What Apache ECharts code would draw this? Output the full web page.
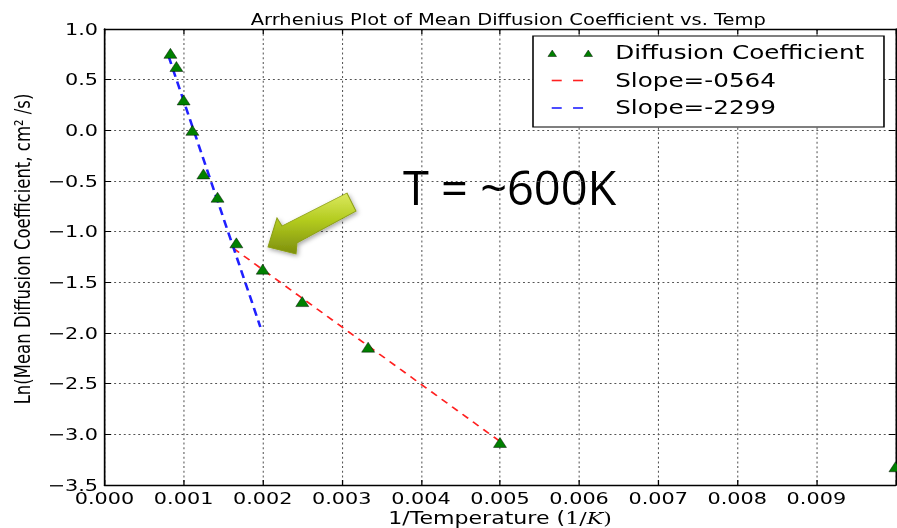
<!DOCTYPE html>
<html>
<head>
<meta charset="utf-8">
<script src="https://cdn.jsdelivr.net/npm/echarts@6/dist/echarts.min.js"></script>
<style>
html,body{margin:0;padding:0;background:#fff;overflow:hidden;}
#c{width:690px;height:528px;transform:scaleX(1.3);transform-origin:0 0;}
</style>
</head>
<body>
<div id="c"></div>
<script>
// ---- data ----
const invT = [0.000833, 0.000909, 0.001, 0.001111, 0.00125, 0.001429, 0.001667, 0.002, 0.0025, 0.003333, 0.005, 0.01];
const lnD = [0.76, 0.63, 0.30, 0.0, -0.43, -0.66, -1.11, -1.37, -1.69, -2.14, -3.08, -3.32];
const redFitX = [0.00163, 0.005];
const redFitY = [-1.165, -3.07];
const blueFitX = [0.00081, 0.00197];
const blueFitY = [0.73, -1.94];
const xTickLabels = ['0.000','0.001','0.002','0.003','0.004','0.005','0.006','0.007','0.008','0.009',''];
const yTickLabels = ['\u22123.5','\u22123.0','\u22122.5','\u22122.0','\u22121.5','\u22121.0','\u22120.5','0.0','0.5','1.0'];
const seriesNames = ['Diffusion Coefficient', 'Slope=-0564', 'Slope=-2299'];
const titleText = 'Arrhenius Plot of Mean Diffusion Coefficient vs. Temp';
const yLabelText = 'Ln(Mean Diffusion Coefficient, cm\u00b2 /s)';
const annotationText = 'T = ~600K';

const X_MIN = 0, X_MAX = 0.01, X_INT = 0.001;
const Y_MIN = -3.5, Y_MAX = 1.0, Y_INT = 0.5;
const SX = 1.3; // horizontal stretch of the original figure

const font = 'DejaVu Sans';
const chart = echarts.init(document.getElementById('c'), null, {renderer: 'svg'});

const scatterData = invT.map((x, i) => [x, lnD[i]]);
const redData = redFitX.map((x, i) => [x, redFitY[i]]);
const blueData = blueFitX.map((x, i) => [x, blueFitY[i]]);

// arrow annotation (original-figure pixels, x divided by stretch)
const arrowPts = [[268,247],[277,218],[282,226],[347,193],[356,211],[297,243],[296,254]].map(p => [p[0]/SX, p[1]]);

const triIcon = 'path://M0,0 M36,14 M0.3,10.5 L3.6,4 L6.9,10.5 Z M28,10.5 L31.3,4 L34.6,10.5 Z';
const blankIcon = 'path://M0,0 M36,14';

// legend key dashes (decoration, legend-local layout)
const LEG_LEFT = 410, LEG_TOP = 36, LEG_PAD = [7, 15, 9, 11], ROW_H = 20, ROW_GAP = 7.5;
function keyDashes(row, color) {
  const cy = LEG_TOP + LEG_PAD[0] + row * (ROW_H + ROW_GAP) + ROW_H / 2;
  const x0 = LEG_LEFT + LEG_PAD[3];
  return [[3.4, 11.1], [19.8, 27.5]].map(seg => ({
    type: 'line', z: 200,
    shape: {x1: x0 + seg[0], y1: cy, x2: x0 + seg[1], y2: cy},
    style: {stroke: color, lineWidth: 1.6}
  }));
}

const frameAxis = {
  axisLine: {show: true, onZero: false, lineStyle: {color: '#000', width: 1.3}},
  axisTick: {show: true, inside: true, length: 5, lineStyle: {color: '#000', width: 1}},
  axisLabel: {show: false},
  splitLine: {show: false}
};

chart.setOption({
  backgroundColor: '#fff',
  animation: false,
  title: {
    text: titleText,
    left: 386, top: 7, textAlign: 'center',
    textStyle: {fontFamily: font, fontSize: 15, fontWeight: 'normal', color: '#000'}
  },
  grid: {left: 80.4, right: 1.2, top: 29, bottom: 43, containLabel: false, outerBoundsMode: 'none'},
  legend: {
    orient: 'vertical',
    left: LEG_LEFT, top: LEG_TOP,
    padding: LEG_PAD,
    itemWidth: 36, itemHeight: 14, itemGap: ROW_GAP,
    borderColor: '#000', borderWidth: 1.2, backgroundColor: '#fff',
    textStyle: {fontFamily: font, fontSize: 19, color: '#000', lineHeight: ROW_H, padding: [0, 0, 0, 11]},
    symbolKeepAspect: true,
    data: [
      {name: seriesNames[0], icon: triIcon,
       itemStyle: {color: '#008000', borderColor: '#000', borderWidth: 0.4}},
      {name: seriesNames[1], icon: blankIcon,
       itemStyle: {color: 'rgba(0,0,0,0)', borderWidth: 0},
       lineStyle: {opacity: 0}},
      {name: seriesNames[2], icon: blankIcon,
       itemStyle: {color: 'rgba(0,0,0,0)', borderWidth: 0},
       lineStyle: {opacity: 0}}
    ]
  },
  xAxis: [
    {
      type: 'value', position: 'bottom', min: X_MIN, max: X_MAX, interval: X_INT,
      axisLine: {show: true, onZero: false, lineStyle: {color: '#000', width: 1.3}},
      axisTick: {show: true, inside: true, length: 5, lineStyle: {color: '#000', width: 1}},
      axisLabel: {
        margin: 6, color: '#000', fontFamily: font, fontSize: 16, lineHeight: 14,
        formatter: v => xTickLabels[Math.round((v - X_MIN) / X_INT)] || ''
      },
      splitLine: {show: true, lineStyle: {color: '#555', width: 0.8, type: [2, 2.7]}},
      name: '{a|1/Temperature (}{b|1/}{c|K}{b|)}',
      nameLocation: 'middle', nameGap: 25, nameMoveOverlap: false,
      nameTextStyle: {
        rich: {
          a: {fontFamily: font, fontSize: 17, color: '#000', lineHeight: 17},
          b: {fontFamily: 'DejaVu Serif', fontSize: 17, color: '#000', lineHeight: 17},
          c: {fontFamily: 'DejaVu Serif', fontStyle: 'italic', fontSize: 17, color: '#000', lineHeight: 17}
        }
      }
    },
    Object.assign({type: 'value', position: 'top', min: X_MIN, max: X_MAX, interval: X_INT}, frameAxis)
  ],
  yAxis: [
    {
      type: 'value', position: 'left', min: Y_MIN, max: Y_MAX, interval: Y_INT,
      axisLine: {show: true, onZero: false, lineStyle: {color: '#000', width: 1.3}},
      axisTick: {show: true, inside: true, length: 5, lineStyle: {color: '#000', width: 1}},
      axisLabel: {
        margin: 5, color: '#000', fontFamily: font, fontSize: 16,
        formatter: v => yTickLabels[Math.round((v - Y_MIN) / Y_INT)] || ''
      },
      splitLine: {show: true, lineStyle: {color: '#555', width: 1, type: [1.5, 2.2]}}
    },
    Object.assign({type: 'value', position: 'right', min: Y_MIN, max: Y_MAX, interval: Y_INT}, frameAxis)
  ],
  series: [
    {
      name: seriesNames[1], type: 'line', data: redData, xAxisIndex: 0, yAxisIndex: 0,
      symbol: 'none', color: '#ff2020',
      lineStyle: {color: '#ff2020', width: 1.5, type: [6, 5]}, z: 3
    },
    {
      name: seriesNames[2], type: 'line', data: blueData, xAxisIndex: 0, yAxisIndex: 0,
      symbol: 'none', color: '#2020ff',
      lineStyle: {color: '#2020ff', width: 2, type: [8, 5]}, z: 3
    },
    {
      name: seriesNames[0], type: 'scatter', data: scatterData, xAxisIndex: 0, yAxisIndex: 0,
      symbol: 'triangle', symbolSize: [10, 10], clip: false,
      itemStyle: {color: '#008000', borderColor: '#000', borderWidth: 0.4, opacity: 1}, z: 4
    }
  ],
  graphic: [
    {
      type: 'text', x: 17.7, y: 249, rotation: Math.PI / 2,
      style: {text: yLabelText, fontFamily: font, fontSize: 16.5, fill: '#000', align: 'center', verticalAlign: 'middle'}
    },
    {
      type: 'text', x: 403 / SX, y: 187, scaleX: 1 / SX,
      style: {text: annotationText, fontFamily: 'Open Sans', fontSize: 47, fill: '#000', align: 'left', verticalAlign: 'middle'}
    },
    {
      type: 'polygon', z: 100,
      shape: {points: arrowPts},
      style: {
        fill: new echarts.graphic.LinearGradient(0, 0, 0, 1, [
          {offset: 0, color: '#dbe95e'},
          {offset: 0.45, color: '#b3cb1f'},
          {offset: 1, color: '#7d8f0d'}
        ]),
        stroke: '#8a9d14', lineWidth: 0.8,
        shadowBlur: 4, shadowColor: 'rgba(0,0,0,0.35)', shadowOffsetY: 2, shadowOffsetX: 1
      }
    }
  ].concat(keyDashes(1, '#ff2020'), keyDashes(2, '#2020ff'))
});
</script>
</body>
</html>
